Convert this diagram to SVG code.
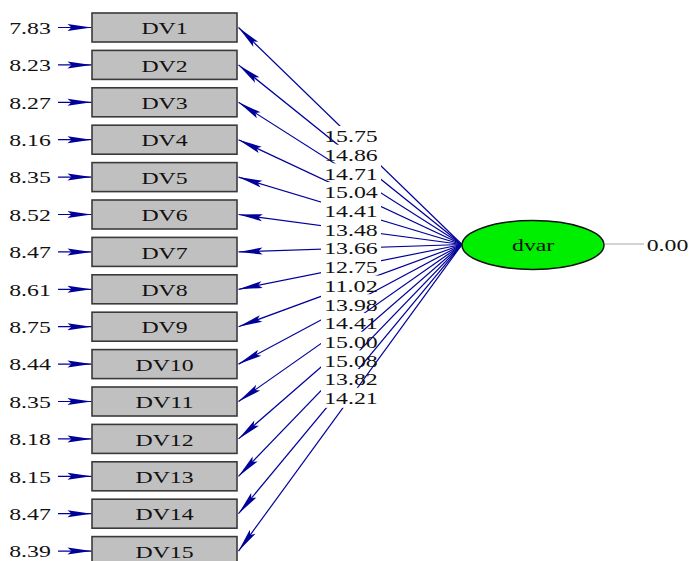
<svg xmlns="http://www.w3.org/2000/svg" width="693" height="561" viewBox="0 0 693 561">
<style>
.box{fill:#c0c0c0;stroke:#3a3a3a;stroke-width:1.6}
.t{font-family:"Liberation Serif","Times New Roman",serif;font-size:17.5px;fill:#111}
.c{stroke:#00009a;stroke-width:1.2;fill:none;marker-end:url(#ah)}
</style>
<defs>
<marker id="ah" markerUnits="userSpaceOnUse" orient="auto" markerWidth="30" markerHeight="10" refX="24" refY="5" viewBox="0 0 30 10" overflow="visible">
<path d="M24,5 L0,1.5 L4,5 L0,8.5 Z" fill="#00009a"/>
</marker>
<mask id="m1" maskUnits="userSpaceOnUse" x="0" y="0" width="693" height="561"><rect width="693" height="561" fill="#fff"/><rect x="321" y="126.0" width="60" height="281.8" fill="#000"/></mask>
<mask id="m2" maskUnits="userSpaceOnUse" x="0" y="0" width="693" height="561"><rect width="693" height="561" fill="#fff"/><rect x="321" y="144.7" width="60" height="263.1" fill="#000"/></mask>
<mask id="m3" maskUnits="userSpaceOnUse" x="0" y="0" width="693" height="561"><rect width="693" height="561" fill="#fff"/><rect x="321" y="163.4" width="60" height="244.4" fill="#000"/></mask>
<mask id="m4" maskUnits="userSpaceOnUse" x="0" y="0" width="693" height="561"><rect width="693" height="561" fill="#fff"/><rect x="321" y="182.1" width="60" height="225.7" fill="#000"/></mask>
<mask id="m5" maskUnits="userSpaceOnUse" x="0" y="0" width="693" height="561"><rect width="693" height="561" fill="#fff"/><rect x="321" y="200.8" width="60" height="207.0" fill="#000"/></mask>
<mask id="m6" maskUnits="userSpaceOnUse" x="0" y="0" width="693" height="561"><rect width="693" height="561" fill="#fff"/><rect x="321" y="219.5" width="60" height="188.3" fill="#000"/></mask>
<mask id="m7" maskUnits="userSpaceOnUse" x="0" y="0" width="693" height="561"><rect width="693" height="561" fill="#fff"/><rect x="321" y="238.2" width="60" height="169.6" fill="#000"/></mask>
<mask id="m8" maskUnits="userSpaceOnUse" x="0" y="0" width="693" height="561"><rect width="693" height="561" fill="#fff"/><rect x="321" y="256.9" width="60" height="150.9" fill="#000"/></mask>
<mask id="m9" maskUnits="userSpaceOnUse" x="0" y="0" width="693" height="561"><rect width="693" height="561" fill="#fff"/><rect x="321" y="275.6" width="60" height="132.2" fill="#000"/></mask>
<mask id="m10" maskUnits="userSpaceOnUse" x="0" y="0" width="693" height="561"><rect width="693" height="561" fill="#fff"/><rect x="321" y="294.3" width="60" height="113.5" fill="#000"/></mask>
<mask id="m11" maskUnits="userSpaceOnUse" x="0" y="0" width="693" height="561"><rect width="693" height="561" fill="#fff"/><rect x="321" y="313.0" width="60" height="94.8" fill="#000"/></mask>
<mask id="m12" maskUnits="userSpaceOnUse" x="0" y="0" width="693" height="561"><rect width="693" height="561" fill="#fff"/><rect x="321" y="331.7" width="60" height="76.1" fill="#000"/></mask>
<mask id="m13" maskUnits="userSpaceOnUse" x="0" y="0" width="693" height="561"><rect width="693" height="561" fill="#fff"/><rect x="321" y="350.4" width="60" height="57.4" fill="#000"/></mask>
<mask id="m14" maskUnits="userSpaceOnUse" x="0" y="0" width="693" height="561"><rect width="693" height="561" fill="#fff"/><rect x="321" y="369.1" width="60" height="38.7" fill="#000"/></mask>
<mask id="m15" maskUnits="userSpaceOnUse" x="0" y="0" width="693" height="561"><rect width="693" height="561" fill="#fff"/><rect x="321" y="387.8" width="60" height="20.0" fill="#000"/></mask>
</defs>
<rect width="693" height="561" fill="#fff"/>

<g id="connectors">
<line class="c" mask="url(#m1)" x1="462" y1="244.5" x2="238.5" y2="27.5"/>
<line class="c" mask="url(#m2)" x1="462" y1="244.5" x2="238.5" y2="64.9"/>
<line class="c" mask="url(#m3)" x1="462" y1="244.5" x2="238.5" y2="102.3"/>
<line class="c" mask="url(#m4)" x1="462" y1="244.5" x2="238.5" y2="139.7"/>
<line class="c" mask="url(#m5)" x1="462" y1="244.5" x2="238.5" y2="177.1"/>
<line class="c" mask="url(#m6)" x1="462" y1="244.5" x2="238.5" y2="214.5"/>
<line class="c" mask="url(#m7)" x1="462" y1="244.5" x2="238.5" y2="251.9"/>
<line class="c" mask="url(#m8)" x1="462" y1="244.5" x2="238.5" y2="289.3"/>
<line class="c" mask="url(#m9)" x1="462" y1="244.5" x2="238.5" y2="326.7"/>
<line class="c" mask="url(#m10)" x1="462" y1="244.5" x2="238.5" y2="364.1"/>
<line class="c" mask="url(#m11)" x1="462" y1="244.5" x2="238.5" y2="401.5"/>
<line class="c" mask="url(#m12)" x1="462" y1="244.5" x2="238.5" y2="438.9"/>
<line class="c" mask="url(#m13)" x1="462" y1="244.5" x2="238.5" y2="476.3"/>
<line class="c" mask="url(#m14)" x1="462" y1="244.5" x2="238.5" y2="513.7"/>
<line class="c" mask="url(#m15)" x1="462" y1="244.5" x2="238.5" y2="551.1"/>
<line class="c" x1="58" y1="27.5" x2="91.5" y2="27.5"/>
<line class="c" x1="58" y1="64.9" x2="91.5" y2="64.9"/>
<line class="c" x1="58" y1="102.3" x2="91.5" y2="102.3"/>
<line class="c" x1="58" y1="139.7" x2="91.5" y2="139.7"/>
<line class="c" x1="58" y1="177.1" x2="91.5" y2="177.1"/>
<line class="c" x1="58" y1="214.5" x2="91.5" y2="214.5"/>
<line class="c" x1="58" y1="251.9" x2="91.5" y2="251.9"/>
<line class="c" x1="58" y1="289.3" x2="91.5" y2="289.3"/>
<line class="c" x1="58" y1="326.7" x2="91.5" y2="326.7"/>
<line class="c" x1="58" y1="364.1" x2="91.5" y2="364.1"/>
<line class="c" x1="58" y1="401.5" x2="91.5" y2="401.5"/>
<line class="c" x1="58" y1="438.9" x2="91.5" y2="438.9"/>
<line class="c" x1="58" y1="476.3" x2="91.5" y2="476.3"/>
<line class="c" x1="58" y1="513.7" x2="91.5" y2="513.7"/>
<line class="c" x1="58" y1="551.1" x2="91.5" y2="551.1"/>
<line x1="605" y1="244" x2="644" y2="244" stroke="#a8a8a8" stroke-width="1"/>
</g>

<g id="path-labels" class="t">
<text x="324.2" y="142.2" textLength="53.6" lengthAdjust="spacingAndGlyphs">15.75</text>
<text x="324.2" y="160.9" textLength="53.6" lengthAdjust="spacingAndGlyphs">14.86</text>
<text x="324.2" y="179.6" textLength="53.6" lengthAdjust="spacingAndGlyphs">14.71</text>
<text x="324.2" y="198.3" textLength="53.6" lengthAdjust="spacingAndGlyphs">15.04</text>
<text x="324.2" y="217.0" textLength="53.6" lengthAdjust="spacingAndGlyphs">14.41</text>
<text x="324.2" y="235.7" textLength="53.6" lengthAdjust="spacingAndGlyphs">13.48</text>
<text x="324.2" y="254.4" textLength="53.6" lengthAdjust="spacingAndGlyphs">13.66</text>
<text x="324.2" y="273.1" textLength="53.6" lengthAdjust="spacingAndGlyphs">12.75</text>
<text x="324.2" y="291.8" textLength="53.6" lengthAdjust="spacingAndGlyphs">11.02</text>
<text x="324.2" y="310.5" textLength="53.6" lengthAdjust="spacingAndGlyphs">13.98</text>
<text x="324.2" y="329.2" textLength="53.6" lengthAdjust="spacingAndGlyphs">14.41</text>
<text x="324.2" y="347.9" textLength="53.6" lengthAdjust="spacingAndGlyphs">15.00</text>
<text x="324.2" y="366.6" textLength="53.6" lengthAdjust="spacingAndGlyphs">15.08</text>
<text x="324.2" y="385.3" textLength="53.6" lengthAdjust="spacingAndGlyphs">13.82</text>
<text x="324.2" y="404.0" textLength="53.6" lengthAdjust="spacingAndGlyphs">14.21</text>
</g>

<g id="error-labels" class="t">
<text x="9.2" y="33.7" textLength="41.6" lengthAdjust="spacingAndGlyphs">7.83</text>
<text x="9.2" y="71.1" textLength="41.6" lengthAdjust="spacingAndGlyphs">8.23</text>
<text x="9.2" y="108.5" textLength="41.6" lengthAdjust="spacingAndGlyphs">8.27</text>
<text x="9.2" y="145.9" textLength="41.6" lengthAdjust="spacingAndGlyphs">8.16</text>
<text x="9.2" y="183.3" textLength="41.6" lengthAdjust="spacingAndGlyphs">8.35</text>
<text x="9.2" y="220.7" textLength="41.6" lengthAdjust="spacingAndGlyphs">8.52</text>
<text x="9.2" y="258.1" textLength="41.6" lengthAdjust="spacingAndGlyphs">8.47</text>
<text x="9.2" y="295.5" textLength="41.6" lengthAdjust="spacingAndGlyphs">8.61</text>
<text x="9.2" y="332.9" textLength="41.6" lengthAdjust="spacingAndGlyphs">8.75</text>
<text x="9.2" y="370.3" textLength="41.6" lengthAdjust="spacingAndGlyphs">8.44</text>
<text x="9.2" y="407.7" textLength="41.6" lengthAdjust="spacingAndGlyphs">8.35</text>
<text x="9.2" y="445.1" textLength="41.6" lengthAdjust="spacingAndGlyphs">8.18</text>
<text x="9.2" y="482.5" textLength="41.6" lengthAdjust="spacingAndGlyphs">8.15</text>
<text x="9.2" y="519.9" textLength="41.6" lengthAdjust="spacingAndGlyphs">8.47</text>
<text x="9.2" y="557.3" textLength="41.6" lengthAdjust="spacingAndGlyphs">8.39</text>
<text x="646.7" y="251.4" textLength="41.6" lengthAdjust="spacingAndGlyphs">0.00</text>
</g>

<g id="DV1"><rect class="box" x="92" y="13.0" width="145" height="29"/><text class="t" x="141.4" y="34.2" textLength="46.3" lengthAdjust="spacingAndGlyphs">DV1</text></g>
<g id="DV2"><rect class="box" x="92" y="50.4" width="145" height="29"/><text class="t" x="141.4" y="71.6" textLength="46.3" lengthAdjust="spacingAndGlyphs">DV2</text></g>
<g id="DV3"><rect class="box" x="92" y="87.8" width="145" height="29"/><text class="t" x="141.4" y="109.0" textLength="46.3" lengthAdjust="spacingAndGlyphs">DV3</text></g>
<g id="DV4"><rect class="box" x="92" y="125.2" width="145" height="29"/><text class="t" x="141.4" y="146.4" textLength="46.3" lengthAdjust="spacingAndGlyphs">DV4</text></g>
<g id="DV5"><rect class="box" x="92" y="162.6" width="145" height="29"/><text class="t" x="141.4" y="183.8" textLength="46.3" lengthAdjust="spacingAndGlyphs">DV5</text></g>
<g id="DV6"><rect class="box" x="92" y="200.0" width="145" height="29"/><text class="t" x="141.4" y="221.2" textLength="46.3" lengthAdjust="spacingAndGlyphs">DV6</text></g>
<g id="DV7"><rect class="box" x="92" y="237.4" width="145" height="29"/><text class="t" x="141.4" y="258.6" textLength="46.3" lengthAdjust="spacingAndGlyphs">DV7</text></g>
<g id="DV8"><rect class="box" x="92" y="274.8" width="145" height="29"/><text class="t" x="141.4" y="296.0" textLength="46.3" lengthAdjust="spacingAndGlyphs">DV8</text></g>
<g id="DV9"><rect class="box" x="92" y="312.2" width="145" height="29"/><text class="t" x="141.4" y="333.4" textLength="46.3" lengthAdjust="spacingAndGlyphs">DV9</text></g>
<g id="DV10"><rect class="box" x="92" y="349.6" width="145" height="29"/><text class="t" x="135.5" y="370.8" textLength="58.1" lengthAdjust="spacingAndGlyphs">DV10</text></g>
<g id="DV11"><rect class="box" x="92" y="387.0" width="145" height="29"/><text class="t" x="135.5" y="408.2" textLength="58.1" lengthAdjust="spacingAndGlyphs">DV11</text></g>
<g id="DV12"><rect class="box" x="92" y="424.4" width="145" height="29"/><text class="t" x="135.5" y="445.6" textLength="58.1" lengthAdjust="spacingAndGlyphs">DV12</text></g>
<g id="DV13"><rect class="box" x="92" y="461.8" width="145" height="29"/><text class="t" x="135.5" y="483.0" textLength="58.1" lengthAdjust="spacingAndGlyphs">DV13</text></g>
<g id="DV14"><rect class="box" x="92" y="499.2" width="145" height="29"/><text class="t" x="135.5" y="520.4" textLength="58.1" lengthAdjust="spacingAndGlyphs">DV14</text></g>
<g id="DV15"><rect class="box" x="92" y="536.6" width="145" height="29"/><text class="t" x="135.5" y="557.8" textLength="58.1" lengthAdjust="spacingAndGlyphs">DV15</text></g>

<g id="dvar"><ellipse cx="533" cy="245" rx="71" ry="24.5" fill="#00ee00" stroke="#111" stroke-width="1.5"/><text class="t" x="512" y="251.2" textLength="42.3" lengthAdjust="spacingAndGlyphs">dvar</text></g>
</svg>
